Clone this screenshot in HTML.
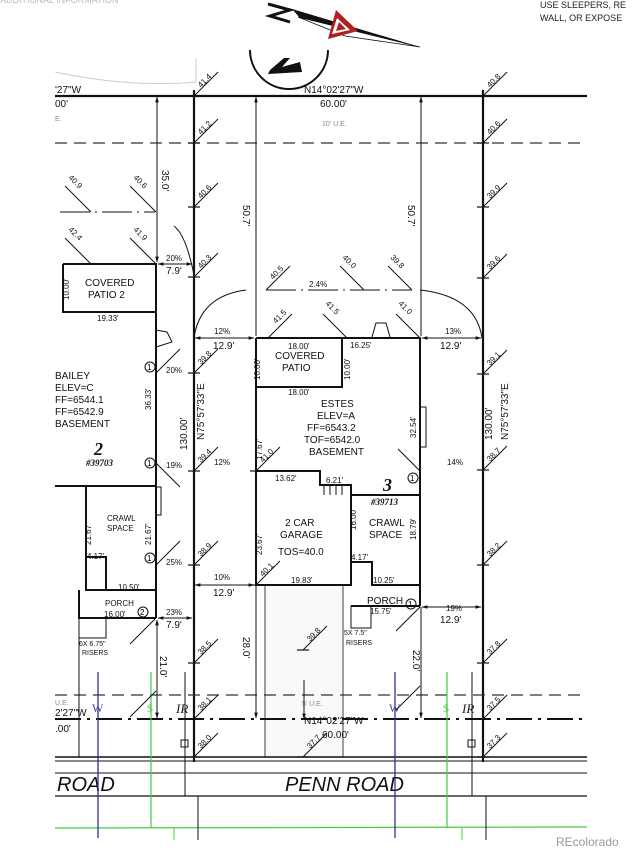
<!DOCTYPE html>
<html><head><meta charset="utf-8"><style>
html,body{margin:0;padding:0;background:#fff;}
svg{display:block;font-family:"Liberation Sans",sans-serif;}
.t{font-size:10px;fill:#111;}
.s{font-size:8px;fill:#111;}
.l{stroke:#111;stroke-width:1;fill:none;}
.b{stroke:#111;stroke-width:2.2;fill:none;}
.d{stroke:#333;stroke-width:1.2;fill:none;stroke-dasharray:12,7;}
</style></head><body>
<svg width="634" height="852" viewBox="0 0 634 852" xmlns="http://www.w3.org/2000/svg">
<defs>
<marker id="a" viewBox="0 0 10 10" refX="9" refY="5" markerWidth="6" markerHeight="6" orient="auto-start-reverse"><path d="M0,2 L10,5 L0,8 z" fill="#111"/></marker>
<g id="e"><line x1="0" y1="0" x2="24" y2="-24" stroke="#111" stroke-width="1"/><line x1="-6" y1="0" x2="6" y2="0" stroke="#111" stroke-width="1.2"/></g>
</defs>

<!-- driveway (drawn first) -->
<rect x="265" y="585" width="78" height="172" fill="#f9f9f9" stroke="#111" stroke-width="0.8"/>

<!-- top texts -->
<text x="0" y="3" font-size="9" fill="#bbb">ADDITIONAL INFORMATION</text>
<text x="540" y="8" font-size="9" fill="#222">USE SLEEPERS, RE</text>
<text x="540" y="21" font-size="9" fill="#222">WALL, OR EXPOSE</text>
<path d="M55,72 Q130,88 196,82 L196,58" stroke="#ccc" fill="none"/>

<!-- compass -->
<path d="M268,4 L290,10 L270,16 L290,22" stroke="#111" stroke-width="3" fill="none"/>
<polygon points="292,9 420,47 300,18" fill="#111"/>
<polygon points="298,17 420,47 345,36" fill="#fff" stroke="#111" stroke-width="0.8"/>
<polygon points="336,10 358,31 328,39" fill="#b02020"/>
<polygon points="337,18 350,30 332,34" fill="#fff"/>
<polygon points="339,22 346,29 336,31" fill="#b02020"/>
<path d="M250,50 A38,38 0 0 0 328,50" stroke="#111" stroke-width="2" fill="none"/>
<polygon points="270,70 284,58 290,58 282,67 300,62 302,72 268,74" fill="#111"/>

<!-- top lot line -->
<line x1="55" y1="96" x2="587" y2="96" class="b"/>
<text x="55" y="93" class="t" font-size="12">'27"W</text>
<text x="55" y="107" class="t" font-size="12">00'</text>
<text x="55" y="121" font-size="7" fill="#888">E.</text>
<text x="304" y="93" class="t" font-size="11">N14°02'27"W</text>
<text x="320" y="107" class="t" font-size="12">60.00'</text>
<text x="322" y="126" font-size="7" fill="#888">10' U.E.</text>
<line x1="55" y1="143" x2="587" y2="143" class="d"/>

<!-- lot lines -->
<line x1="194" y1="90" x2="194" y2="762" class="b"/>
<line x1="483" y1="90" x2="483" y2="762" class="b"/>

<!-- road -->
<line x1="55" y1="719" x2="587" y2="719" stroke="#111" stroke-width="2" stroke-dasharray="26,6,3,6"/>
<line x1="55" y1="695" x2="587" y2="695" class="d"/>
<line x1="55" y1="757" x2="587" y2="757" stroke="#111" stroke-width="1.5"/>
<line x1="55" y1="761" x2="587" y2="761" stroke="#111" stroke-width="1"/>
<line x1="55" y1="773" x2="587" y2="773" class="l"/>
<line x1="55" y1="796" x2="587" y2="796" stroke="#111" stroke-width="1.3"/>
<text x="57" y="791" font-size="20" font-style="italic" fill="#111">ROAD</text>
<text x="285" y="791" font-size="20" font-style="italic" fill="#111">PENN ROAD</text>
<line x1="55" y1="828" x2="587" y2="827" stroke="#4c4" stroke-width="1.3"/>
<line x1="98" y1="672" x2="98" y2="838" stroke="#338" stroke-width="1.3"/>
<line x1="395" y1="672" x2="395" y2="838" stroke="#338" stroke-width="1.3"/>
<line x1="151" y1="672" x2="151" y2="828" stroke="#4c4" stroke-width="1.2"/>
<line x1="447" y1="672" x2="447" y2="828" stroke="#4c4" stroke-width="1.2"/>
<line x1="174" y1="828" x2="174" y2="840" stroke="#4c4"/>
<line x1="462" y1="828" x2="462" y2="840" stroke="#4c4"/>
<line x1="185" y1="672" x2="185" y2="796" class="l"/>
<line x1="472" y1="672" x2="472" y2="796" class="l"/>
<line x1="198" y1="796" x2="198" y2="840" class="l"/>
<line x1="486" y1="796" x2="486" y2="840" class="l"/>
<text x="92" y="712" font-size="12" fill="#44a" font-family="Liberation Serif">W</text>
<text x="389" y="712" font-size="12" fill="#44a" font-family="Liberation Serif">W</text>
<text x="147" y="712" font-size="12" fill="#6c6" font-family="Liberation Serif">$</text>
<text x="443" y="712" font-size="12" fill="#6c6" font-family="Liberation Serif">$</text>
<text x="176" y="713" font-size="13" font-style="italic" fill="#222" font-family="Liberation Serif">IR</text>
<text x="462" y="713" font-size="13" font-style="italic" fill="#222" font-family="Liberation Serif">IR</text>
<rect x="181" y="740" width="7" height="7" fill="none" stroke="#111"/>
<rect x="468" y="740" width="7" height="7" fill="none" stroke="#111"/>
<text x="55" y="716" class="t" font-size="11">2'27"W</text>
<text x="55" y="732" class="t" font-size="11">.00'</text>
<text x="55" y="705" font-size="7" fill="#888">U.E.</text>
<text x="304" y="724" class="t" font-size="11">N14°02'27"W</text>
<text x="322" y="738" class="t" font-size="12">60.00'</text>
<text x="302" y="706" font-size="7" fill="#888">5' U.E.</text>

<line x1="79" y1="620" x2="79" y2="757" class="l"/>

<!-- lot 3 house -->
<path d="M256,338 L420,338 L420,606 M256,338 L256,585 L351,585 L351,495 L420,495 M256,471 L320,471 L320,485 L351,485 L351,495 M420,585 L372,585 L372,562 L351,562 M351,606 L420,606" stroke="#111" stroke-width="2" fill="none"/>
<path d="M256,387 L342,387 L342,338" stroke="#111" stroke-width="2" fill="none"/>
<path d="M324,485 L324,495 M330,485 L330,495 M336,485 L336,495 M342,485 L342,495" class="l"/>
<rect x="351" y="606" width="20" height="22" class="l"/>
<rect x="420" y="407" width="6" height="40" class="l"/>
<path d="M372,337 L376,323 L386,323 L390,337" class="l"/>
<text x="275" y="359" class="t" font-size="10">COVERED</text>
<text x="282" y="371" class="t" font-size="10">PATIO</text>
<text x="288" y="349" class="s">18.00'</text>
<text x="288" y="395" class="s">18.00'</text>
<text x="350" y="348" class="s">16.25'</text>
<text x="321" y="407" class="t">ESTES</text>
<text x="317" y="419" class="t">ELEV=A</text>
<text x="307" y="431" class="t">FF=6543.2</text>
<text x="304" y="443" class="t">TOF=6542.0</text>
<text x="309" y="455" class="t">BASEMENT</text>
<text x="275" y="481" class="s">13.62'</text>
<text x="326" y="483" class="s">6.21'</text>
<text x="383" y="491" font-size="18" font-weight="bold" font-style="italic" font-family="Liberation Serif" fill="#111">3</text>
<text x="371" y="505" font-size="9" font-style="italic" font-weight="bold" font-family="Liberation Serif" fill="#111">#39713</text>
<text x="285" y="526" class="t">2 CAR</text>
<text x="280" y="538" class="t">GARAGE</text>
<text x="278" y="555" class="t">TOS=40.0</text>
<text x="369" y="526" class="t">CRAWL</text>
<text x="369" y="538" class="t">SPACE</text>
<text x="291" y="583" class="s">19.83'</text>
<text x="373" y="583" class="s">10.25'</text>
<text x="351" y="560" class="s">4.17'</text>
<text x="367" y="604" class="t">PORCH</text>
<text x="370" y="614" class="s">15.75'</text>
<text x="344" y="635" font-size="7" fill="#111">5X 7.5"</text>
<text x="346" y="645" font-size="7" fill="#111">RISERS</text>
<circle cx="413" cy="478" r="5" class="l"/><text x="410" y="481" font-size="8">1</text>
<circle cx="411" cy="604" r="5" class="l"/><text x="408" y="607" font-size="8">1</text>

<!-- lot 2 house -->
<path d="M63,264 L156,264 L156,618 M63,264 L63,312 L156,312 M55,486 L156,486 M86,486 L86,590 L106,590 L106,557 L86,557 M106,590 L156,590 M79,590 L79,618 L156,618" stroke="#111" stroke-width="2" fill="none"/>
<rect x="156" y="487" width="5" height="28" class="l"/>
<path d="M156,330 L167,332 L172,342 L156,347" class="l"/>
<rect x="79" y="618" width="27" height="20" class="l"/>
<text x="85" y="286" class="t">COVERED</text>
<text x="88" y="298" class="t">PATIO 2</text>
<text x="97" y="321" class="s">19.33'</text>
<text x="55" y="379" class="t">BAILEY</text>
<text x="55" y="391" class="t">ELEV=C</text>
<text x="55" y="403" class="t">FF=6544.1</text>
<text x="55" y="415" class="t">FF=6542.9</text>
<text x="55" y="427" class="t">BASEMENT</text>
<text x="94" y="455" font-size="18" font-weight="bold" font-style="italic" font-family="Liberation Serif" fill="#111">2</text>
<text x="86" y="466" font-size="9" font-style="italic" font-weight="bold" font-family="Liberation Serif" fill="#111">#39703</text>
<text x="107" y="521" class="s">CRAWL</text>
<text x="107" y="531" class="s">SPACE</text>
<text x="87" y="559" class="s">4.17'</text>
<text x="118" y="590" class="s">10.50'</text>
<text x="105" y="606" class="s">PORCH</text>
<text x="104" y="617" class="s">16.00'</text>
<text x="79" y="646" font-size="7" fill="#111">6X 6.75"</text>
<text x="82" y="655" font-size="7" fill="#111">RISERS</text>
<circle cx="150" cy="367" r="5" class="l"/><text x="147" y="370" font-size="8">1</text>
<circle cx="150" cy="463" r="5" class="l"/><text x="147" y="466" font-size="8">1</text>
<circle cx="150" cy="558" r="5" class="l"/><text x="147" y="561" font-size="8">1</text>
<circle cx="143" cy="612" r="5" class="l"/><text x="140" y="615" font-size="8">2</text>

<!-- vertical dims -->
<line x1="157" y1="97" x2="157" y2="262" class="l" marker-start="url(#a)" marker-end="url(#a)"/>
<line x1="157" y1="620" x2="157" y2="718" class="l" marker-start="url(#a)" marker-end="url(#a)"/>
<line x1="256" y1="97" x2="256" y2="336" class="l" marker-start="url(#a)"/>
<line x1="421" y1="97" x2="421" y2="336" class="l" marker-start="url(#a)"/>
<line x1="256" y1="586" x2="256" y2="718" class="l" marker-end="url(#a)"/>
<line x1="421" y1="607" x2="421" y2="718" class="l" marker-end="url(#a)"/>
<line x1="304" y1="680" x2="304" y2="719" class="l" marker-end="url(#a)"/>
<text transform="translate(162,170) rotate(90)" class="t" font-size="11">35.0'</text>
<text transform="translate(243,205) rotate(90)" class="t" font-size="11">50.7'</text>
<text transform="translate(408,205) rotate(90)" class="t" font-size="11">50.7'</text>
<text transform="translate(243,637) rotate(90)" class="t" font-size="11">28.0'</text>
<text transform="translate(413,650) rotate(90)" class="t" font-size="11">22.0'</text>
<text transform="translate(160,656) rotate(90)" class="t" font-size="11">21.0'</text>
<text transform="translate(187,450) rotate(-90)" class="t" font-size="11">130.00'</text>
<text transform="translate(204,440) rotate(-90)" class="t" font-size="11">N75°57'33"E</text>
<text transform="translate(492,440) rotate(-90)" class="t" font-size="11">130.00'</text>
<text transform="translate(508,440) rotate(-90)" class="t" font-size="11">N75°57'33"E</text>
<text transform="translate(260,380) rotate(-90)" class="s">10.00'</text>
<text transform="translate(350,380) rotate(-90)" class="s">10.00'</text>
<text transform="translate(262,460) rotate(-90)" class="s">17.67'</text>
<text transform="translate(262,555) rotate(-90)" class="s">23.67'</text>
<text transform="translate(356,530) rotate(-90)" class="s">16.00'</text>
<text transform="translate(416,438) rotate(-90)" class="s">32.54'</text>
<text transform="translate(416,540) rotate(-90)" class="s">18.79'</text>
<text transform="translate(69,300) rotate(-90)" class="s">10.00'</text>
<text transform="translate(151,410) rotate(-90)" class="s">36.33'</text>
<text transform="translate(91,545) rotate(-90)" class="s">21.67'</text>
<text transform="translate(151,545) rotate(-90)" class="s">21.67'</text>

<!-- horizontal dims -->
<line x1="195" y1="338" x2="254" y2="338" class="l" marker-start="url(#a)" marker-end="url(#a)"/>
<line x1="422" y1="338" x2="481" y2="338" class="l" marker-start="url(#a)" marker-end="url(#a)"/>
<line x1="195" y1="585" x2="254" y2="585" class="l" marker-start="url(#a)" marker-end="url(#a)"/>
<line x1="422" y1="607" x2="481" y2="607" class="l" marker-start="url(#a)" marker-end="url(#a)"/>
<line x1="158" y1="264" x2="192" y2="264" class="l" marker-start="url(#a)" marker-end="url(#a)"/>
<line x1="158" y1="618" x2="192" y2="618" class="l" marker-start="url(#a)" marker-end="url(#a)"/>
<text x="213" y="349" class="t" font-size="11">12.9'</text>
<text x="440" y="349" class="t" font-size="11">12.9'</text>
<text x="213" y="596" class="t" font-size="11">12.9'</text>
<text x="440" y="623" class="t" font-size="11">12.9'</text>
<text x="166" y="274" class="t" font-size="11">7.9'</text>
<text x="166" y="628" class="t" font-size="11">7.9'</text>
<text x="214" y="334" class="s">12%</text><text x="445" y="334" class="s">13%</text>
<text x="214" y="465" class="s">12%</text><text x="447" y="465" class="s">14%</text>
<text x="214" y="580" class="s">10%</text><text x="446" y="611" class="s">19%</text>
<text x="166" y="261" class="s">20%</text><text x="166" y="373" class="s">20%</text>
<text x="166" y="468" class="s">19%</text><text x="166" y="565" class="s">25%</text>
<text x="166" y="615" class="s">23%</text>
<text x="309" y="287" class="s">2.4%</text>

<!-- arcs / drainage -->
<path d="M194,338 Q200,296 246,290 M420,290 Q476,296 482,338 M194,275 Q186,235 174,226" class="l"/>
<line x1="266" y1="290" x2="412" y2="290" class="l" stroke-dasharray="30,5,2,5"/>
<line x1="60" y1="212" x2="155" y2="212" class="l" stroke-dasharray="30,5,2,5"/>

<!-- elevation markers left lot line -->
<use href="#e" x="194" y="96"/><text transform="translate(201,88) rotate(-45)" class="s">41.4</text>
<use href="#e" x="194" y="143"/><text transform="translate(201,135) rotate(-45)" class="s">41.2</text>
<use href="#e" x="194" y="207"/><text transform="translate(201,199) rotate(-45)" class="s">40.6</text>
<use href="#e" x="194" y="277"/><text transform="translate(201,269) rotate(-45)" class="s">40.3</text>
<use href="#e" x="194" y="373"/><text transform="translate(201,365) rotate(-45)" class="s">39.8</text>
<use href="#e" x="194" y="471"/><text transform="translate(201,463) rotate(-45)" class="s">39.4</text>
<use href="#e" x="194" y="565"/><text transform="translate(201,557) rotate(-45)" class="s">38.9</text>
<use href="#e" x="194" y="663"/><text transform="translate(201,655) rotate(-45)" class="s">38.5</text>
<use href="#e" x="194" y="719"/><text transform="translate(201,711) rotate(-45)" class="s">38.1</text>
<use href="#e" x="194" y="757"/><text transform="translate(201,749) rotate(-45)" class="s">38.0</text>
<!-- right lot line -->
<use href="#e" x="483" y="96"/><text transform="translate(490,88) rotate(-45)" class="s">40.8</text>
<use href="#e" x="483" y="143"/><text transform="translate(490,135) rotate(-45)" class="s">40.6</text>
<use href="#e" x="483" y="207"/><text transform="translate(490,199) rotate(-45)" class="s">39.9</text>
<use href="#e" x="483" y="278"/><text transform="translate(490,270) rotate(-45)" class="s">39.6</text>
<use href="#e" x="483" y="374"/><text transform="translate(490,366) rotate(-45)" class="s">39.1</text>
<use href="#e" x="483" y="470"/><text transform="translate(490,462) rotate(-45)" class="s">38.7</text>
<use href="#e" x="483" y="565"/><text transform="translate(490,557) rotate(-45)" class="s">38.2</text>
<use href="#e" x="483" y="663"/><text transform="translate(490,655) rotate(-45)" class="s">37.8</text>
<use href="#e" x="483" y="719"/><text transform="translate(490,711) rotate(-45)" class="s">37.5</text>
<use href="#e" x="483" y="757"/><text transform="translate(490,749) rotate(-45)" class="s">37.3</text>
<!-- misc markers -->
<use href="#e" x="256" y="471"/><text transform="translate(263,463) rotate(-45)" class="s">41.0</text>
<use href="#e" x="256" y="585"/><text transform="translate(263,577) rotate(-45)" class="s">40.1</text>
<use href="#e" x="303" y="650"/><text transform="translate(310,642) rotate(-45)" class="s">39.8</text>
<use href="#e" x="303" y="757"/><text transform="translate(310,749) rotate(-45)" class="s">37.7</text>
<line x1="420" y1="338" x2="396" y2="314" class="l"/><text transform="translate(398,304) rotate(45)" class="s">41.0</text>
<line x1="347" y1="338" x2="323" y2="314" class="l"/><text transform="translate(325,304) rotate(45)" class="s">41.5</text>
<line x1="420" y1="471" x2="398" y2="449" class="l"/>
<line x1="268" y1="338" x2="292" y2="314" class="l"/><text transform="translate(276,324) rotate(-45)" class="s">41.5</text>
<line x1="266" y1="290" x2="290" y2="266" class="l"/><text transform="translate(273,280) rotate(-45)" class="s">40.5</text>
<line x1="364" y1="290" x2="340" y2="266" class="l"/><text transform="translate(342,258) rotate(45)" class="s">40.0</text>
<line x1="412" y1="290" x2="388" y2="266" class="l"/><text transform="translate(390,258) rotate(45)" class="s">39.8</text>
<line x1="156" y1="264" x2="130" y2="238" class="l"/><text transform="translate(133,230) rotate(45)" class="s">41.9</text>
<line x1="156" y1="212" x2="130" y2="186" class="l"/><text transform="translate(133,178) rotate(45)" class="s">40.6</text>
<line x1="91" y1="212" x2="65" y2="186" class="l"/><text transform="translate(68,178) rotate(45)" class="s">40.9</text>
<line x1="91" y1="264" x2="65" y2="238" class="l"/><text transform="translate(68,230) rotate(45)" class="s">42.4</text>
<line x1="156" y1="373" x2="180" y2="349" class="l"/>
<line x1="156" y1="463" x2="180" y2="487" class="l"/>
<line x1="156" y1="565" x2="180" y2="541" class="l"/>
<line x1="156" y1="618" x2="130" y2="644" class="l"/>
<line x1="156" y1="691" x2="130" y2="717" class="l"/>
<line x1="420" y1="607" x2="396" y2="631" class="l"/>
<line x1="420" y1="686" x2="396" y2="710" class="l"/>

<text x="556" y="846" font-size="12" fill="#999">REcolorado</text>
</svg>
</body></html>
